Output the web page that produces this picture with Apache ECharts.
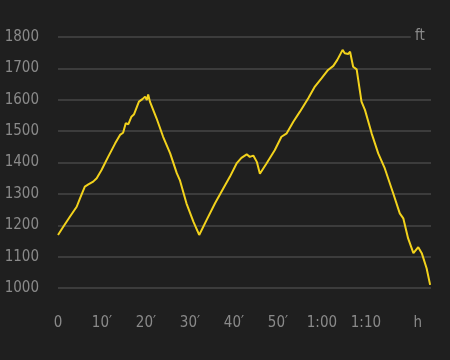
<!DOCTYPE html>
<html>
<head>
<meta charset="utf-8">
<script src="https://cdn.jsdelivr.net/npm/echarts@6/dist/echarts.min.js"></script>
<style>
html,body{margin:0;padding:0;background:#1f1f1f;}
#chart{width:450px;height:360px;}
</style>
</head>
<body>
<div id="chart"></div>
<script>
var minutes = [0,1.2,2.7,4.25,5.0,6.1,6.9,8.0,8.8,9.9,11.4,13.0,14.1,14.8,15.4,16.0,16.7,17.3,18.4,19.2,19.8,20.2,20.5,20.9,22.4,23.9,25.5,27.0,27.7,29.2,30.8,32.1,33.8,35.7,37.6,39.1,40.6,41.7,42.9,43.6,44.4,45.2,45.9,47.4,49.3,50.8,52.0,53.5,55.0,56.9,58.4,59.9,61.4,62.6,63.5,64.7,65.2,66.0,66.4,67.1,67.9,69.0,69.8,71.3,72.8,74.3,76.2,77.7,78.5,79.6,80.0,80.8,81.9,82.7,83.8,84.6];
var elevation = [1169,1195,1227,1259,1286,1323,1330,1339,1350,1376,1418,1461,1488,1495,1525,1522,1546,1554,1594,1602,1610,1599,1617,1594,1541,1482,1429,1366,1344,1270,1211,1169,1217,1270,1318,1355,1397,1415,1426,1418,1422,1402,1364,1397,1440,1482,1493,1530,1562,1605,1642,1668,1695,1708,1727,1759,1748,1746,1753,1705,1697,1594,1567,1493,1429,1381,1302,1238,1222,1158,1158,1111,1130,1111,1063,1010];
var yTicks = [1000,1100,1200,1300,1400,1500,1600,1700,1800];
var xTickLabels = {0:'0',10:'10\u2032',20:'20\u2032',30:'30\u2032',40:'40\u2032',50:'50\u2032',60:'1:00',70:'1:10',80:'{h|h}'};
var yUnit = 'ft';

var data = minutes.map(function(m,i){return [m, elevation[i]];});
var FONT = '"DejaVu Sans Condensed", "Liberation Sans Narrow", sans-serif';
var FS = 15;
var LABEL = '#8a8a8a';
var GRID = '#474747';

var chart = echarts.init(document.getElementById('chart'), null, {renderer:'canvas'});
chart.setOption({
  backgroundColor:'#1f1f1f',
  animation:false,
  grid:{left:58,right:19,top:37,bottom:72,containLabel:false,outerBoundsMode:'none'},
  xAxis:{
    type:'value', min:0, max:84.8, interval:10,
    axisLine:{show:false}, axisTick:{show:false}, splitLine:{show:false},
    axisLabel:{
      color:LABEL, fontFamily:FONT, fontSize:FS, margin:28, showMaxLabel:false,
      formatter:function(v){ return xTickLabels.hasOwnProperty(v) ? xTickLabels[v] : ''; },
      rich:{h:{color:LABEL, fontFamily:FONT, fontSize:FS, padding:[0,0,0,16]}}
    }
  },
  yAxis:{
    type:'value', min:yTicks[0], max:yTicks[yTicks.length-1], interval:100,
    axisLine:{show:false}, axisTick:{show:false},
    axisLabel:{color:LABEL, fontFamily:FONT, fontSize:FS, margin:19, formatter:function(v){return String(v);}},
    splitLine:{show:true, lineStyle:{color:[GRID,GRID,GRID,GRID,GRID,GRID,GRID,GRID,'rgba(0,0,0,0)'], width:1.5}}
  },
  graphic:[{
    type:'text', left:415, top:29,
    style:{text:yUnit, fill:LABEL, font:FS + 'px ' + FONT}
  }],
  series:[{
    type:'line', data:data, showSymbol:false, symbol:'none',
    lineStyle:{color:'#f2d21c', width:2},
    markLine:{
      silent:true, symbol:['none','none'], label:{show:false},
      lineStyle:{color:GRID, type:'solid', width:1.5},
      data:[[{coord:[0,1800]},{coord:[80.2,1800]}]]
    }
  }]
});
</script>
</body>
</html>
